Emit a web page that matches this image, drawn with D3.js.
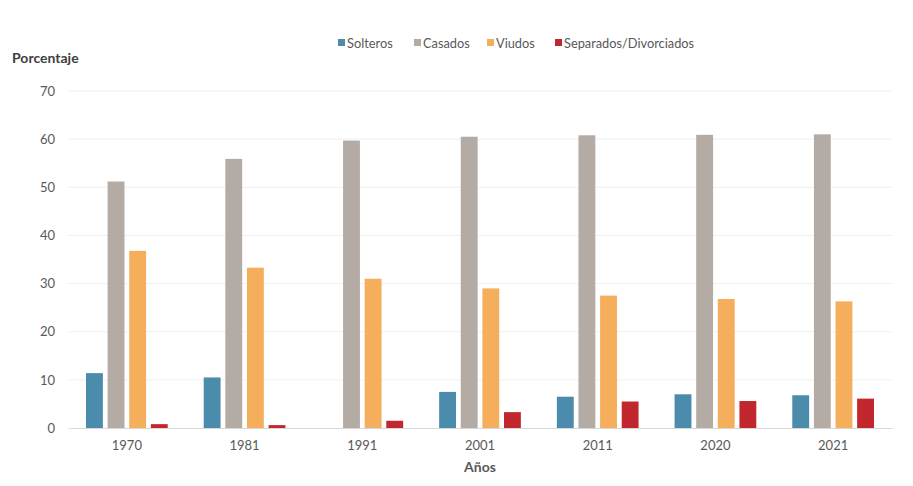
<!DOCTYPE html>
<html>
<head>
<meta charset="utf-8">
<script src="https://cdn.jsdelivr.net/npm/d3@7"></script>
<style>
  body { margin: 0; background: #fff; }
  text { font-family: Lato, "Open Sans", sans-serif; }
</style>
</head>
<body>
<div id="chart"></div>
<script>
var years = ["1970", "1981", "1991", "2001", "2011", "2020", "2021"];
var seriesNames = ["Solteros", "Casados", "Viudos", "Separados/Divorciados"];
var solteros = [11.4, 10.5, 0, 7.5, 6.5, 7.0, 6.8];
var casados = [51.2, 55.9, 59.7, 60.5, 60.8, 60.9, 61.0];
var viudos = [36.8, 33.3, 31.0, 29.0, 27.5, 26.8, 26.3];
var separados = [0.8, 0.6, 1.5, 3.3, 5.5, 5.6, 6.1];
var yTicks = [0, 10, 20, 30, 40, 50, 60, 70];
var colors = ["#4b8bab", "#b4aba5", "#f5ae5b", "#c1272d"];

var svgWidth = 913;
var svgHeight = 486;
var margin = { top: 91, right: 21, bottom: 58, left: 68 };
var width = svgWidth - margin.left - margin.right;
var height = svgHeight - margin.top - margin.bottom;

var allSeries = [solteros, casados, viudos, separados];
var data = years.map(function(y, i) {
  return { year: y, values: allSeries.map(function(s) { return s[i]; }) };
});

var svg = d3.select("#chart")
  .append("svg")
  .attr("width", svgWidth)
  .attr("height", svgHeight);

var chartGroup = svg.append("g")
  .attr("transform", `translate(${margin.left}, ${margin.top})`);

var x0 = d3.scaleBand().domain(years).range([0, width]).paddingInner(0).paddingOuter(0);
var x1 = d3.scaleBand().domain(seriesNames).range([18, x0.bandwidth() - 18]).paddingInner(0.22);
var y = d3.scaleLinear().domain([0, 70]).range([height, 0]);

// gridlines
chartGroup.append("g")
  .selectAll("line")
  .data(yTicks.filter(function(t) { return t > 0; }))
  .enter()
  .append("line")
  .attr("x1", 0)
  .attr("x2", width)
  .attr("y1", d => y(d))
  .attr("y2", d => y(d))
  .attr("stroke", "#efefef")
  .attr("stroke-width", 1);

// bars
var groups = chartGroup.selectAll(".year")
  .data(data)
  .enter()
  .append("g")
  .attr("transform", d => `translate(${x0(d.year)}, 0)`);

groups.selectAll("rect")
  .data(d => d.values.map(function(v, i) { return { name: seriesNames[i], value: v, i: i }; }))
  .enter()
  .append("rect")
  .attr("x", d => x1(d.name))
  .attr("width", x1.bandwidth())
  .attr("y", d => y(d.value))
  .attr("height", d => height - y(d.value))
  .attr("fill", d => colors[d.i]);

// x axis
var bottomAxis = d3.axisBottom(x0).tickSize(0).tickPadding(13);
var xAxis = chartGroup.append("g")
  .attr("transform", `translate(0, ${height})`)
  .call(bottomAxis);
xAxis.select(".domain").attr("stroke", "#d9d9d9");
xAxis.selectAll("text")
  .attr("fill", "#595959")
  .style("font-size", "13px");

// y axis
var leftAxis = d3.axisLeft(y).tickValues(yTicks).tickSize(0).tickPadding(13);
var yAxis = chartGroup.append("g").call(leftAxis);
yAxis.select(".domain").remove();
yAxis.selectAll("text")
  .attr("fill", "#595959")
  .style("font-size", "13px");

// axis titles
svg.append("text")
  .attr("x", 12)
  .attr("y", 63)
  .attr("fill", "#404040")
  .style("font-size", "14px")
  .style("font-weight", "bold")
  .text("Porcentaje");

svg.append("text")
  .attr("x", margin.left + width / 2)
  .attr("y", 472)
  .attr("text-anchor", "middle")
  .attr("fill", "#595959")
  .style("font-size", "14px")
  .style("font-weight", "bold")
  .text("Años");

// legend
var legendX = [338, 414, 487, 555];
var legend = svg.append("g");
seriesNames.forEach(function(name, i) {
  legend.append("rect")
    .attr("x", legendX[i])
    .attr("y", 39)
    .attr("width", 7)
    .attr("height", 7)
    .attr("fill", colors[i]);
  legend.append("text")
    .attr("x", legendX[i] + 9)
    .attr("y", 48)
    .attr("fill", "#595959")
    .style("font-size", "12.8px")
    .text(name);
});
</script>
</body>
</html>
